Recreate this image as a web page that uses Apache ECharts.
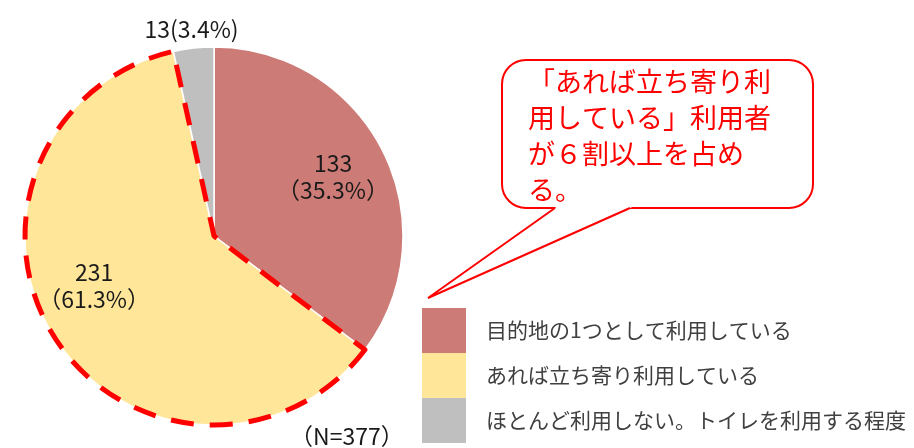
<!DOCTYPE html>
<html>
<head>
<meta charset="utf-8">
<script src="https://cdn.jsdelivr.net/npm/echarts@6/dist/echarts.min.js"></script>
<style>
  html, body { margin: 0; padding: 0; background: #fff; }
  #chart { width: 914px; height: 448px; }
</style>
</head>
<body>
<div id="chart"></div>
<script>
const categories = [
  "目的地の1つとして利用している",
  "あれば立ち寄り利用している",
  "ほとんど利用しない。トイレを利用する程度",
];
const counts = [133, 231, 13];
const colors = ["#CD7B76", "#FFE699", "#BFBFBF"];
const sampleNote = "（N=377）";
const calloutLines = ["「あれば立ち寄り利", "用している」利用者", "が６割以上を占め", "る。"];

const FONT = "'Noto Sans CJK JP', 'Noto Sans', sans-serif";
const total = counts.reduce((a, b) => a + b, 0);
const pct = (v) => ((v / total) * 100).toFixed(1);
const clear = "rgba(0,0,0,0)";
const center = [214, 236];

const chart = echarts.init(document.getElementById("chart"));

// main slices
const mainData = categories.map((name, i) => ({
  name: name,
  value: counts[i],
  itemStyle: { color: colors[i] },
}));

// dashed outline around the yellow slice
const outlineData = categories.map((name, i) => ({
  name: name,
  value: counts[i],
  itemStyle:
    i === 1
      ? { color: clear, borderColor: "#FF0000", borderWidth: 5, borderType: [23, 16] }
      : { color: clear, borderWidth: 0 },
}));

// labels for the two big slices (inside)
const innerLabelData = categories.map((name, i) => ({
  name: name,
  value: counts[i],
  itemStyle: { color: clear },
  label: { show: i < 2, offset: i === 1 ? [-8, -22] : [0, 0] },
}));

// label for the small slice (above the pie)
const outerLabelData = categories.map((name, i) => ({
  name: name,
  value: counts[i],
  itemStyle: { color: clear },
  label: { show: i === 2 },
}));

chart.setOption({
  animation: false,
  legend: {
    orient: "vertical",
    left: 422,
    top: 308,
    height: 140,
    padding: 0,
    itemWidth: 44,
    itemHeight: 45,
    itemGap: 0,
    icon: "rect",
    selectedMode: false,
    data: categories,
    itemStyle: { borderWidth: 0 },
    textStyle: {
      color: "#404040",
      fontSize: 21,
      fontFamily: FONT,
      padding: [0, 0, 0, 15],
    },
  },
  series: [
    {
      type: "pie",
      center: center,
      radius: [0, 189],
      startAngle: 90,
      clockwise: true,
      silent: true,
      label: { show: false },
      labelLine: { show: false },
      itemStyle: { borderColor: "#fff", borderWidth: 1.5 },
      data: mainData,
    },
    {
      type: "pie",
      center: center,
      radius: [0, 189],
      startAngle: 90,
      silent: true,
      label: { show: false },
      labelLine: { show: false },
      data: outlineData,
    },
    {
      type: "pie",
      center: center,
      radius: [71, 189],
      startAngle: 90,
      silent: true,
      avoidLabelOverlap: false,
      labelLine: { show: false },
      label: {
        position: "inside",
        color: "#1a1a1a",
        fontSize: 23,
        lineHeight: 27,
        fontFamily: FONT,
        formatter: (p) => p.value + "\n（" + pct(p.value) + "%）",
      },
      data: innerLabelData,
    },
    {
      type: "pie",
      center: center,
      radius: [190, 220],
      startAngle: 90,
      silent: true,
      avoidLabelOverlap: false,
      labelLine: { show: false },
      label: {
        position: "inside",
        color: "#1a1a1a",
        fontSize: 23,
        fontFamily: FONT,
        formatter: (p) => p.value + "(" + pct(p.value) + "%)",
      },
      data: outerLabelData,
    },
  ],
  graphic: [
    {
      type: "rect",
      silent: true,
      shape: { x: 502, y: 60, width: 311, height: 148, r: 24 },
      style: { fill: "#fff", stroke: "#FF0000", lineWidth: 2 },
    },
    {
      type: "polygon",
      silent: true,
      shape: { points: [[559.2, 205], [428, 298], [636.7, 205]] },
      style: { fill: "#fff" },
    },
    {
      type: "polyline",
      silent: true,
      shape: { points: [[555, 208], [428, 298], [630, 208]] },
      style: { fill: null, stroke: "#FF0000", lineWidth: 2 },
    },
    {
      type: "text",
      silent: true,
      x: 528,
      y: 64,
      style: {
        text: calloutLines.join("\n"),
        fill: "#FF0000",
        font: "27px " + FONT,
        lineHeight: 36,
      },
    },
    {
      type: "text",
      silent: true,
      x: 290,
      y: 425,
      style: {
        text: sampleNote,
        fill: "#1a1a1a",
        font: "23px " + FONT,
      },
    },
  ],
});
</script>
</body>
</html>
